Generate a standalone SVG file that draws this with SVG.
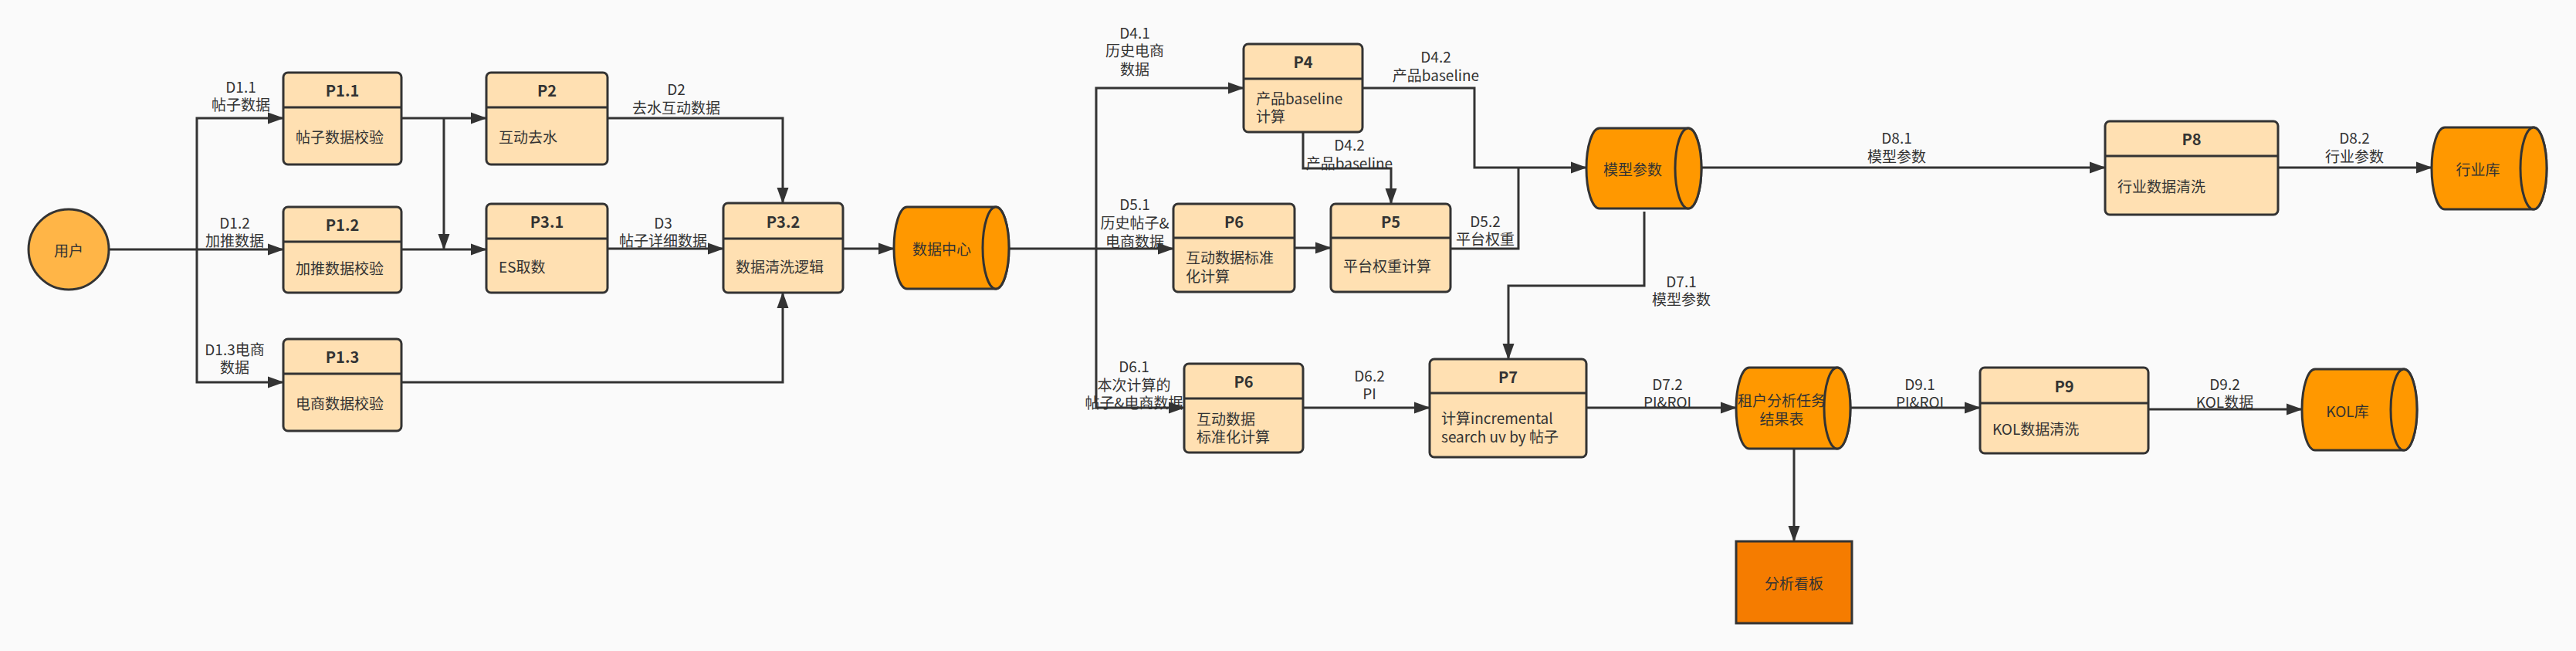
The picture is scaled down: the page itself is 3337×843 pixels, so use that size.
<svg xmlns="http://www.w3.org/2000/svg" width="3337" height="843" viewBox="0 0 3337 843">
<defs>
<style>
text{font-family:"Noto Sans CJK SC","Noto Sans",sans-serif;font-size:19px;fill:#333;dominant-baseline:central}
.t{font-weight:bold;font-size:20px;text-anchor:middle}
.c{text-anchor:middle}
.box{fill:#FFE0B2;stroke:#333;stroke-width:3}
.div{stroke:#333;stroke-width:3}
.cyl{fill:#FF9800;stroke:#333;stroke-width:3}
.ln{fill:none;stroke:#333;stroke-width:3;stroke-linejoin:miter}
.ar{marker-end:url(#arr)}
</style>
<marker id="arr" markerUnits="userSpaceOnUse" markerWidth="21" markerHeight="18" viewBox="0 0 21 18" refX="20" refY="9" orient="auto">
<path d="M0,1.5 L21,9 L0,16.5 Z" fill="#333"/>
</marker>
</defs>
<rect x="0" y="0" width="3337" height="843" fill="#FAFAFA"/>

<g id="connectors">
<path class="ln" d="M141,323 H255"/>
<path class="ln ar" d="M255,323 H367"/>
<path class="ln ar" d="M255,323 V153 H367"/>
<path class="ln ar" d="M255,323 V495 H367"/>
<path class="ln ar" d="M520,153 H630"/>
<path class="ln ar" d="M575,153 V323"/>
<path class="ln ar" d="M520,323 H630"/>
<path class="ln ar" d="M787,153 H1014 V263"/>
<path class="ln ar" d="M787,322 H937"/>
<path class="ln ar" d="M520,495 H1014 V379"/>
<path class="ln ar" d="M1092,322 H1158"/>
<path class="ln ar" d="M1307,322 H1520"/>
<path class="ln ar" d="M1420,322 V114 H1611"/>
<path class="ln ar" d="M1420,322 V528 H1534"/>
<path class="ln ar" d="M1765,114 H1910 V217 H2055"/>
<path class="ln ar" d="M1688,171 V218 H1802 V264"/>
<path class="ln ar" d="M1677,321 H1724"/>
<path class="ln" d="M1879,322 H1967 V217"/>
<path class="ln ar" d="M2130,274 V370 H1954 V465"/>
<path class="ln ar" d="M2204,217 H2727"/>
<path class="ln ar" d="M2951,217 H3150"/>
<path class="ln ar" d="M1688,528 H1852"/>
<path class="ln ar" d="M2055,528 H2249"/>
<path class="ln ar" d="M2324,581 V701"/>
<path class="ln ar" d="M2397,528 H2565"/>
<path class="ln ar" d="M2783,530 H2982"/>
<g id="connector-labels">
<text class="c" x="312" y="111">D1.1</text><text class="c" x="312" y="134">帖子数据</text>
<text class="c" x="304" y="287">D1.2</text><text class="c" x="304" y="310">加推数据</text>
<text class="c" x="304" y="451">D1.3电商</text><text class="c" x="304" y="474">数据</text>
<text class="c" x="876" y="114">D2</text><text class="c" x="876" y="138">去水互动数据</text>
<text class="c" x="859" y="287">D3</text><text class="c" x="859" y="310">帖子详细数据</text>
<text class="c" x="1470" y="41">D4.1</text><text class="c" x="1470" y="64">历史电商</text><text class="c" x="1470" y="88">数据</text>
<text class="c" x="1470" y="263">D5.1</text><text class="c" x="1470" y="287">历史帖子&amp;</text><text class="c" x="1470" y="311">电商数据</text>
<text class="c" x="1860" y="72">D4.2</text><text class="c" x="1860" y="96">产品baseline</text>
<text class="c" x="1748" y="186">D4.2</text><text class="c" x="1748" y="210">产品baseline</text>
<text class="c" x="1924" y="285">D5.2</text><text class="c" x="1924" y="308">平台权重</text>
<text class="c" x="2178" y="363">D7.1</text><text class="c" x="2178" y="386">模型参数</text>
<text class="c" x="2457" y="177">D8.1</text><text class="c" x="2457" y="201">模型参数</text>
<text class="c" x="3050" y="177">D8.2</text><text class="c" x="3050" y="201">行业参数</text>
<text class="c" x="1469" y="473">D6.1</text><text class="c" x="1469" y="497">本次计算的</text><text class="c" x="1469" y="520">帖子&amp;电商数据</text>
<text class="c" x="1774" y="485">D6.2</text><text class="c" x="1774" y="508">PI</text>
<text class="c" x="2160" y="496">D7.2</text><text class="c" x="2160" y="519">PI&amp;ROI</text>
<text class="c" x="2487" y="496">D9.1</text><text class="c" x="2487" y="519">PI&amp;ROI</text>
<text class="c" x="2882" y="496">D9.2</text><text class="c" x="2882" y="519">KOL数据</text>
</g>
</g>

<g id="user">
<circle cx="89" cy="323" r="52" fill="#FFB547" stroke="#333" stroke-width="3"/>
<text class="c" x="89" y="323">用户</text>
</g>

<g id="P1.1">
<rect class="box" x="367" y="94" width="153" height="119" rx="6"/>
<line class="div" x1="367" y1="139" x2="520" y2="139"/>
<text class="t" x="443.5" y="116.5">P1.1</text>
<text x="383" y="176">帖子数据校验</text>
</g>
<g id="P1.2">
<rect class="box" x="367" y="268" width="153" height="111" rx="6"/>
<line class="div" x1="367" y1="313" x2="520" y2="313"/>
<text class="t" x="443.5" y="290.5">P1.2</text>
<text x="383" y="346">加推数据校验</text>
</g>
<g id="P1.3">
<rect class="box" x="367" y="439" width="153" height="119" rx="6"/>
<line class="div" x1="367" y1="484" x2="520" y2="484"/>
<text class="t" x="443.5" y="461.5">P1.3</text>
<text x="383" y="521">电商数据校验</text>
</g>
<g id="P2">
<rect class="box" x="630" y="94" width="157" height="119" rx="6"/>
<line class="div" x1="630" y1="139" x2="787" y2="139"/>
<text class="t" x="708.5" y="116.5">P2</text>
<text x="646" y="176">互动去水</text>
</g>
<g id="P3.1">
<rect class="box" x="630" y="264" width="157" height="115" rx="6"/>
<line class="div" x1="630" y1="309" x2="787" y2="309"/>
<text class="t" x="708.5" y="286.5">P3.1</text>
<text x="646" y="344">ES取数</text>
</g>
<g id="P3.2">
<rect class="box" x="937" y="263" width="155" height="116" rx="6"/>
<line class="div" x1="937" y1="309" x2="1092" y2="309"/>
<text class="t" x="1014.5" y="286">P3.2</text>
<text x="953" y="344">数据清洗逻辑</text>
</g>

<g id="datacenter">
<path class="cyl" d="M1175,268 H1290 A17,53 0 0 1 1290,374 H1175 A17,53 0 0 1 1175,268 Z"/>
<ellipse class="cyl" cx="1290" cy="321" rx="17" ry="53"/>
<text class="c" x="1220" y="321">数据中心</text>
</g>

<g id="P4">
<rect class="box" x="1611" y="57" width="154" height="114" rx="6"/>
<line class="div" x1="1611" y1="102" x2="1765" y2="102"/>
<text class="t" x="1688" y="79.5">P4</text>
<text x="1627" y="126">产品baseline</text>
<text x="1627" y="149">计算</text>
</g>
<g id="P6-upper">
<rect class="box" x="1520" y="264" width="157" height="114" rx="6"/>
<line class="div" x1="1520" y1="308" x2="1677" y2="308"/>
<text class="t" x="1598.5" y="286">P6</text>
<text x="1536" y="332">互动数据标准</text>
<text x="1536" y="356">化计算</text>
</g>
<g id="P5">
<rect class="box" x="1724" y="264" width="155" height="114" rx="6"/>
<line class="div" x1="1724" y1="308" x2="1879" y2="308"/>
<text class="t" x="1801.5" y="286">P5</text>
<text x="1740" y="343">平台权重计算</text>
</g>

<g id="model-params">
<path class="cyl" d="M2072,166 H2187 A17,52 0 0 1 2187,270 H2072 A17,52 0 0 1 2072,166 Z"/>
<ellipse class="cyl" cx="2187" cy="218" rx="17" ry="52"/>
<text class="c" x="2115" y="218">模型参数</text>
</g>

<g id="P8">
<rect class="box" x="2727" y="157" width="224" height="121" rx="6"/>
<line class="div" x1="2727" y1="202" x2="2951" y2="202"/>
<text class="t" x="2839" y="179.5">P8</text>
<text x="2743" y="240">行业数据清洗</text>
</g>

<g id="industry-db">
<path class="cyl" d="M3167,165 H3282 A17,53 0 0 1 3282,271 H3167 A17,53 0 0 1 3167,165 Z"/>
<ellipse class="cyl" cx="3282" cy="218" rx="17" ry="53"/>
<text class="c" x="3210" y="218">行业库</text>
</g>

<g id="P6-lower">
<rect class="box" x="1534" y="471" width="154" height="115" rx="6"/>
<line class="div" x1="1534" y1="516" x2="1688" y2="516"/>
<text class="t" x="1611" y="493.5">P6</text>
<text x="1550" y="541">互动数据</text>
<text x="1550" y="564">标准化计算</text>
</g>

<g id="P7">
<rect class="box" x="1852" y="465" width="203" height="127" rx="6"/>
<line class="div" x1="1852" y1="509" x2="2055" y2="509"/>
<text class="t" x="1953.5" y="487">P7</text>
<text x="1867" y="540">计算incremental</text>
<text x="1867" y="564">search uv by 帖子</text>
</g>

<g id="tenant-result">
<path class="cyl" d="M2266,476 H2380 A17,52.5 0 0 1 2380,581 H2266 A17,52.5 0 0 1 2266,476 Z"/>
<ellipse class="cyl" cx="2380" cy="528.5" rx="17" ry="52.5"/>
<text class="c" x="2308" y="517">租户分析任务</text>
<text class="c" x="2308" y="541">结果表</text>
</g>

<g id="dashboard">
<rect x="2249" y="701" width="150" height="106" fill="#F57C00" stroke="#333" stroke-width="3"/>
<text class="c" x="2324" y="754">分析看板</text>
</g>

<g id="P9">
<rect class="box" x="2565" y="476" width="218" height="111" rx="6"/>
<line class="div" x1="2565" y1="522" x2="2783" y2="522"/>
<text class="t" x="2674" y="499">P9</text>
<text x="2581" y="554">KOL数据清洗</text>
</g>

<g id="kol-db">
<path class="cyl" d="M2999,478 H3114 A17,52.5 0 0 1 3114,583 H2999 A17,52.5 0 0 1 2999,478 Z"/>
<ellipse class="cyl" cx="3114" cy="530.5" rx="17" ry="52.5"/>
<text class="c" x="3041" y="531">KOL库</text>
</g>
</svg>
